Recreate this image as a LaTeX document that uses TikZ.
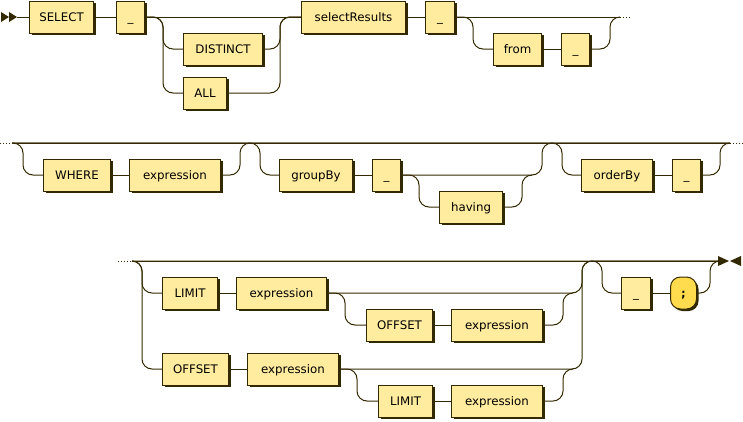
\documentclass[tikz,border=0pt]{standalone}
\usepackage{fontspec}
\setmainfont{DejaVu Sans}
\setmonofont{DejaVu Sans Mono}
\usetikzlibrary{shadows}
\definecolor{rline}{HTML}{332900}
\definecolor{boxfill}{HTML}{FFEC9E}
\definecolor{termfill}{HTML}{FFDB4D}
\tikzset{
  rbox/.style={draw=rline, fill=boxfill, line width=1pt, minimum height=32pt, inner sep=0pt, anchor=west,
    font=\fontsize{11.8}{14}\selectfont, text height=9.5pt, text depth=1.5pt,
    drop shadow={shadow xshift=2pt, shadow yshift=-2pt, opacity=1, fill=rline}},
  tbox/.style={rbox, fill=termfill, rounded corners=10pt, font=\fontsize{12}{14}\selectfont\ttfamily\bfseries},
  rr/.style={draw=rline, line width=1pt, rounded corners=10pt},
  dots/.style={draw=rline, line width=1pt, dash pattern=on 1pt off 2pt},
  endmark/.style={fill=rline, draw=none}
}
\newcommand{\bx}[5]{\node[rbox, minimum width=#3-#2] (#1) at (#2,#4) {#5};}
\begin{document}
\begin{tikzpicture}[x=1pt, y=-1pt]
\useasboundingbox (0,0) rectangle (743,421);
% ---------- Row 1 ----------
\fill[endmark] (1,12) -- (9,17) -- (1,22) -- cycle;
\fill[endmark] (9,12) -- (17,17) -- (9,22) -- cycle;
\coordinate (r1s) at (17,17);
\bx{sel}{29}{93}{17}{SELECT}
\bx{ua}{116}{144}{17}{\_}
\bx{dist}{183}{262}{49}{DISTINCT}
\bx{all}{183}{226}{93}{ALL}
\bx{selr}{301}{405}{17}{selectResults}
\bx{ub}{425}{454}{17}{\_}
\bx{from}{493}{541}{49}{from}
\bx{uc}{561}{589}{49}{\_}
\coordinate (r1e) at (620,17);
\draw[rr] (r1s) -- (sel.west);
\draw[rr] (sel.east) -- (ua.west);
\draw[rr] (ua.east) -- (selr.west);
\draw[rr] (ua.east) -- (163,17) |- (dist.west);
\draw[rr] (ua.east) -- (163,17) |- (all.west);
\draw[rr] (dist.east) -| (280,17) -- (selr.west);
\draw[rr] (all.east) -| (280,17) -- (selr.west);
\draw[rr] (selr.east) -- (ub.west);
\draw[rr] (ub.east) -- (r1e);
\draw[rr] (ub.east) -- (473,17) |- (from.west);
\draw[rr] (from.east) -- (uc.west);
\draw[rr] (uc.east) -| (610,17) -- (r1e);
\draw[dots] (r1e) -- (632,17);
% ---------- Row 2 ----------
\coordinate (r2s) at (12,143);
\coordinate (r2e) at (730,143);
\draw[dots] (0,143) -- (r2s);
\draw[rr] (r2s) -- (r2e);
\draw[dots] (r2e) -- (743,143);
\bx{where}{43}{110}{175}{WHERE}
\bx{exa}{129}{220}{175}{expression}
\bx{grp}{279}{352}{175}{groupBy}
\bx{ud}{372}{400}{175}{\_}
\bx{hav}{439}{502}{207}{having}
\bx{ord}{581}{652}{175}{orderBy}
\bx{ue}{672}{700}{175}{\_}
\draw[rr] (r2s) -- (23,143) |- (where.west);
\draw[rr] (where.east) -- (exa.west);
\draw[rr] (exa.east) -| (240,143) -- (r2e);
\draw[rr] (r2s) -- (260,143) |- (grp.west);
\draw[rr] (grp.east) -- (ud.west);
\draw[rr] (ud.east) -| (542,143) -- (r2e);
\draw[rr] (ud.east) -- (419,175) |- (hav.west);
\draw[rr] (hav.east) -| (522,175) -- (532,175);
\draw[rr] (r2s) -- (562,143) |- (ord.west);
\draw[rr] (ord.east) -- (ue.west);
\draw[rr] (ue.east) -| (720,143) -- (r2e);
% ---------- Row 3 ----------
\coordinate (r3s) at (132,261);
\coordinate (r3e) at (718,261);
\draw[dots] (118,261) -- (r3s);
\draw[rr] (r3s) -- (r3e);
\bx{lima}{162}{217}{293}{LIMIT}
\bx{exb}{236}{326}{293}{expression}
\bx{offa}{366}{432}{325}{OFFSET}
\bx{exc}{451}{542}{325}{expression}
\bx{offb}{162}{228}{369}{OFFSET}
\bx{exd}{247}{338}{369}{expression}
\bx{limb}{378}{432}{401}{LIMIT}
\bx{exe}{451}{542}{401}{expression}
\bx{uf}{621}{650}{293}{\_}
\node[tbox, minimum width=26pt] (semi) at (670,293) {;};
\draw[rr] (r3s) -- (142,261) |- (lima.west);
\draw[rr] (r3s) -- (142,261) |- (offb.west);
\draw[rr] (lima.east) -- (exb.west);
\draw[rr] (exb.east) -| (582,261) -- (r3e);
\draw[rr] (exb.east) -- (345,293) |- (offa.west);
\draw[rr] (offa.east) -- (exc.west);
\draw[rr] (exc.east) -| (563,293) -- (573,293);
\draw[rr] (offb.east) -- (exd.west);
\draw[rr] (exd.east) -| (582,261) -- (r3e);
\draw[rr] (exd.east) -- (357,369) |- (limb.west);
\draw[rr] (limb.east) -- (exe.west);
\draw[rr] (exe.east) -| (563,369) -- (573,369);
\draw[rr] (r3s) -- (602,261) |- (uf.west);
\draw[rr] (uf.east) -- (semi.west);
\draw[rr] (semi.east) -| (710,261) -- (r3e);
\fill[endmark] (718,256) -- (729,261) -- (718,266) -- cycle;
\fill[endmark] (741,256) -- (730,261) -- (741,266) -- cycle;
\end{tikzpicture}
\end{document}
